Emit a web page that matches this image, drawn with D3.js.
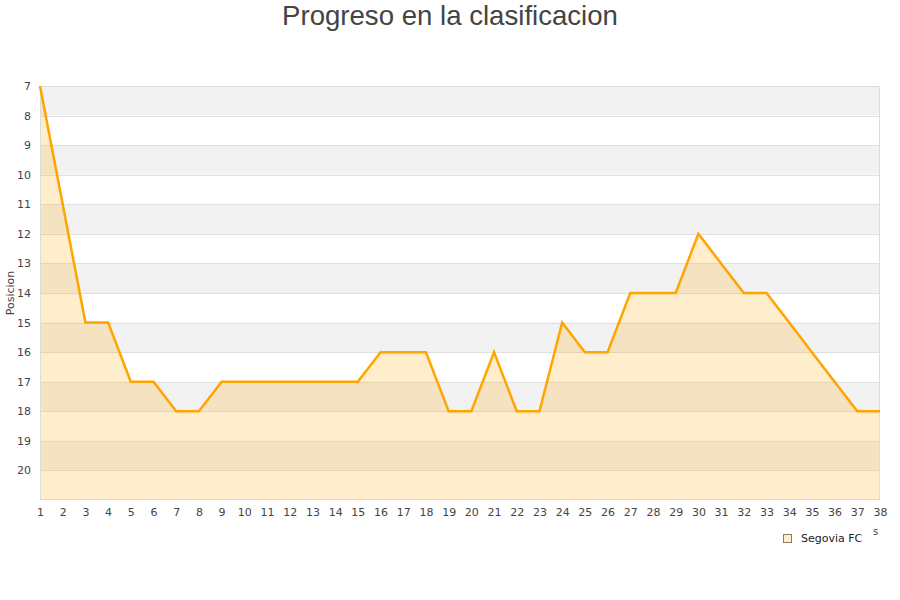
<!DOCTYPE html>
<html>
<head>
<meta charset="utf-8">
<script src="https://cdn.jsdelivr.net/npm/d3@7"></script>
<style>
body { margin: 0; background: #fff; }
svg { display: block; }
</style>
</head>
<body>
<svg id="chart" width="900" height="600"></svg>
<script>
const rounds = d3.range(1, 39);
const positions = [7, 11, 15, 15, 17, 17, 18, 18, 17, 17, 17, 17, 17, 17, 17, 16, 16, 16, 18, 18, 16, 18, 18, 15, 16, 16, 14, 14, 14, 12, 13, 14, 14, 15, 16, 17, 18, 18];
const yTicks = d3.range(7, 21);
const seriesName = "Segovia FC";
const titleText = "Progreso en la clasificacion";
const yLabel = "Posicion";

(function () {
const svg = d3.select("#chart");
const pL = 40, pR = 880, pT = 86, pB = 500;

const x = d3.scaleLinear().domain([1, 38]).range([pL, pR]);
const y = d3.scaleLinear().domain([7, 21]).range([pT, pB]);

// bands
svg.append("g").selectAll("rect").data(d3.range(7, 21)).join("rect")
  .attr("x", pL).attr("width", pR - pL)
  .attr("y", d => y(d)).attr("height", d => y(d + 1) - y(d))
  .attr("fill", d => (d % 2 === 1) ? "#f2f2f2" : "#ffffff");

// grid lines
svg.append("g").selectAll("line").data(d3.range(8, 21)).join("line")
  .attr("x1", pL).attr("x2", pR)
  .attr("y1", d => Math.round(y(d)) + 0.5).attr("y2", d => Math.round(y(d)) + 0.5)
  .attr("stroke", "#e0e0e0").attr("stroke-width", 1);

const data = rounds.map((r, i) => ({ r, p: positions[i] }));

// area
svg.append("path").datum(data)
  .attr("d", d3.area().x(d => x(d.r)).y0(pB).y1(d => y(d.p)))
  .attr("fill", "rgba(255,165,0,0.2)");

// border
svg.append("rect").attr("x", pL + 0.5).attr("y", pT + 0.5)
  .attr("width", pR - pL - 1).attr("height", pB - pT - 1)
  .attr("fill", "none").attr("stroke", "#dcdcdc");

// line
svg.append("path").datum(data)
  .attr("d", d3.line().x(d => x(d.r)).y(d => y(d.p)))
  .attr("fill", "none").attr("stroke", "#ffa500").attr("stroke-width", 2.5)
  .attr("stroke-linejoin", "miter");

// y axis labels
const yAxis = d3.axisLeft(y).tickValues(yTicks).tickSize(0).tickPadding(9).tickFormat(d3.format("d"));
const gy = svg.append("g").attr("transform", `translate(${pL},0)`).call(yAxis);
gy.select(".domain").remove();
gy.selectAll("text").attr("font-family", "DejaVu Sans").attr("font-size", 11).attr("fill", "#444");

// x axis labels
const xAxis = d3.axisBottom(x).tickValues(rounds).tickSize(0).tickPadding(8).tickFormat(d3.format("d"));
const gx = svg.append("g").attr("transform", `translate(0,${pB})`).call(xAxis);
gx.select(".domain").remove();
gx.selectAll("text").attr("font-family", "DejaVu Sans").attr("font-size", 11).attr("fill", "#444");

// title
svg.append("text").attr("x", 450).attr("y", 25).attr("text-anchor", "middle")
  .attr("font-family", "Liberation Sans").attr("font-size", 27.6).attr("fill", "#444")
  .text(titleText);

// y label
svg.append("text").attr("transform", "translate(14,293) rotate(-90)")
  .attr("text-anchor", "middle").attr("font-family", "DejaVu Sans").attr("font-size", 11).attr("fill", "#444")
  .text(yLabel);

// clipped x title remnant
svg.append("text").attr("x", 873).attr("y", 535)
  .attr("font-family", "DejaVu Sans").attr("font-size", 10).attr("fill", "#444").text("s");

// legend
svg.append("rect").attr("x", 783.5).attr("y", 534.5).attr("width", 8).attr("height", 8)
  .attr("fill", "#ffecc8").attr("stroke", "#8a7a66").attr("stroke-width", 1);
svg.append("text").attr("x", 801).attr("y", 542)
  .attr("font-family", "DejaVu Sans").attr("font-size", 11).attr("fill", "#222")
  .text(seriesName);
})();
</script>
</body>
</html>
